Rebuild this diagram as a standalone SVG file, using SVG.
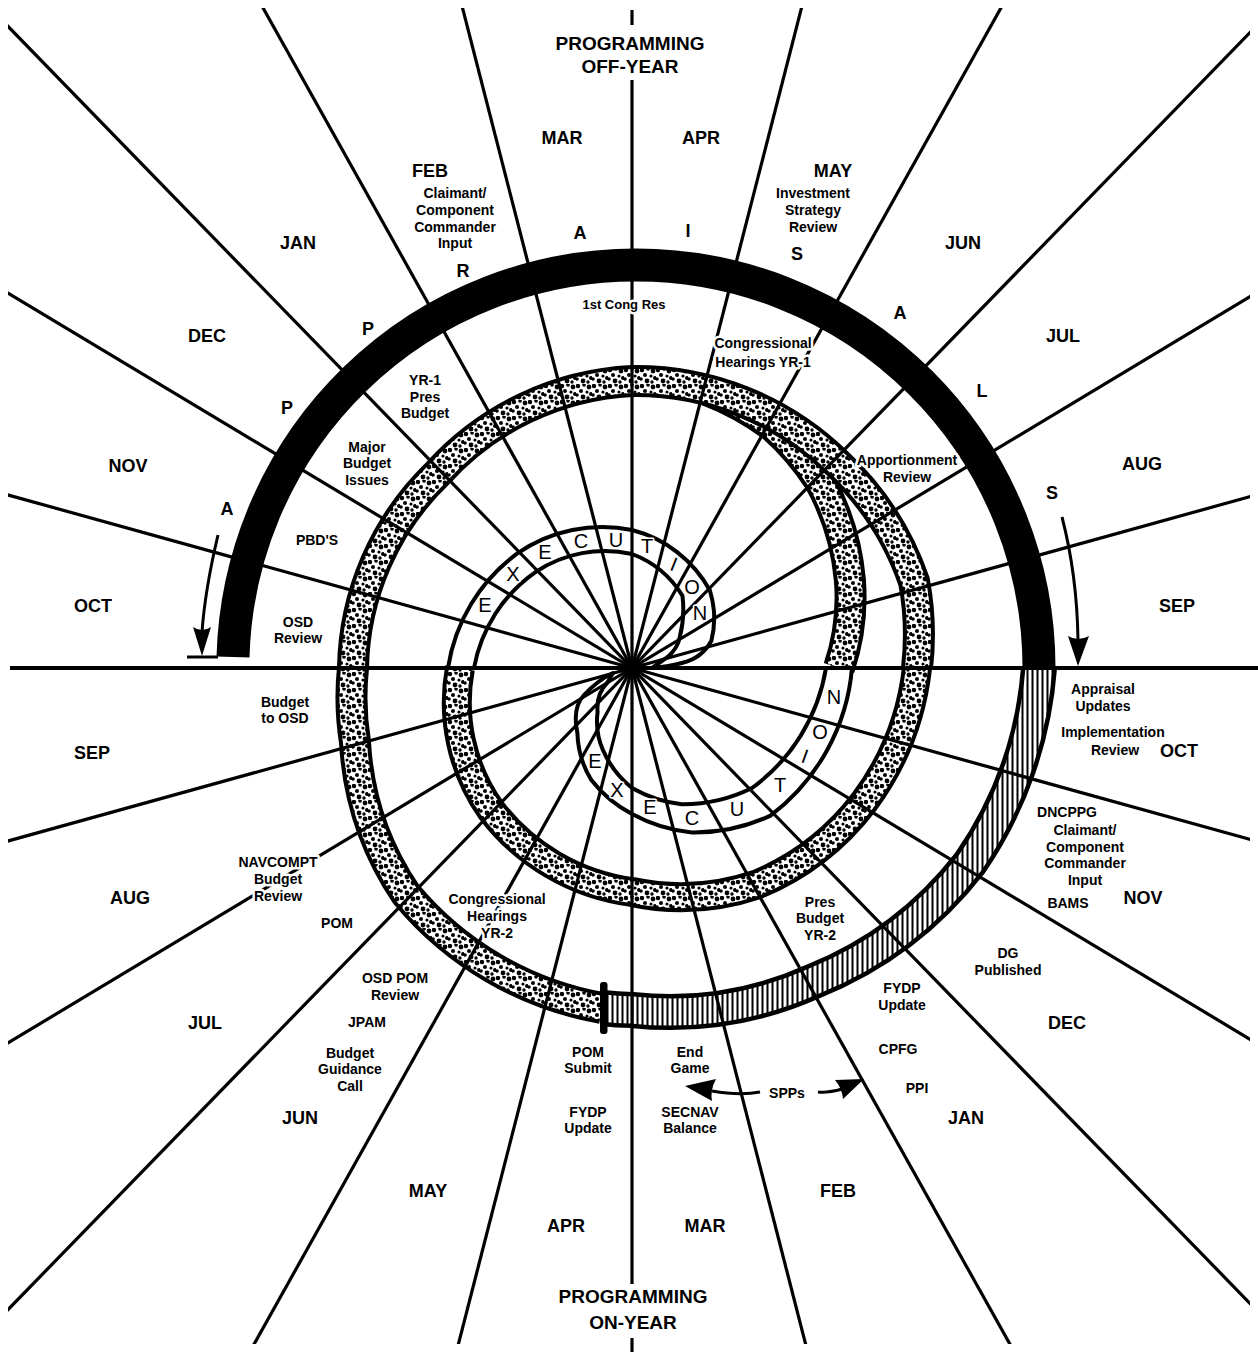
<svg xmlns="http://www.w3.org/2000/svg" width="1258" height="1352" viewBox="0 0 1258 1352">
<defs>
<style>
.t{font-family:"Liberation Sans",Arial,Helvetica,sans-serif;font-weight:bold;text-anchor:middle;fill:#000;paint-order:stroke;stroke:#fff;stroke-width:5px;stroke-linejoin:round}
.s{font-size:14px}
.m{font-size:18px}
.ttl{font-size:19px}
.x{font-family:"Liberation Sans",Arial,Helvetica,sans-serif;font-size:20px;text-anchor:middle;dominant-baseline:central;fill:#000;paint-order:stroke;stroke:#fff;stroke-width:3px;stroke-linejoin:round}
.ray{stroke:#000;stroke-width:3.2;fill:none}
.blk{fill:none;stroke:#000;stroke-linecap:butt}
.arr{fill:none;stroke:#000;stroke-width:3}
</style>
<pattern id="stip" width="16" height="16" patternUnits="userSpaceOnUse">
<rect width="16" height="16" fill="#fff"/>
<g fill="#000">
<circle cx="2" cy="2" r="2.2"/>
<circle cx="8" cy="1" r="1.8"/>
<circle cx="13" cy="3" r="2.4"/>
<circle cx="5" cy="7" r="2"/>
<circle cx="11" cy="8" r="1.6"/>
<circle cx="15" cy="10" r="2"/>
<circle cx="1" cy="11" r="1.8"/>
<circle cx="7" cy="13" r="2.4"/>
<circle cx="12" cy="14" r="1.7"/>
</g>
</pattern>
<pattern id="hatch" width="5" height="10" patternUnits="userSpaceOnUse">
<rect width="5" height="10" fill="#fff"/>
<rect x="1.5" y="0" width="2" height="10" fill="#000"/>
</pattern>
<clipPath id="frame"><rect x="8" y="8" width="1242" height="1336"/></clipPath>
</defs>
<rect width="1258" height="1352" fill="#fff"/>

<g id="spiral-b-stipple">
<path class="blk" stroke-width="32" d="M 706.5 389.8 A 285 285 0 0 1 772 425.5 A 272 272 0 0 1 819.4 480.6 A 250 250 0 0 1 849.9 580 A 222 222 0 0 1 839 668"/>
<path fill="none" stroke="url(#stip)" stroke-width="24" d="M 706.5 389.8 A 285 285 0 0 1 772 425.5 A 272 272 0 0 1 819.4 480.6 A 250 250 0 0 1 849.9 580 A 222 222 0 0 1 839 668"/>
</g>

<g id="spiral-a-black">
<path class="blk" stroke-width="33" d="M 233 657 A 403 403 0 0 1 636 265 A 403 403 0 0 1 1039 668"/>
</g>

<g id="spiral-a-hatched">
<path class="blk" stroke-width="36" d="M 1039 668 A 398 398 0 0 1 970 863 A 376 376 0 0 1 813 981.5 A 352 352 0 0 1 632 1010 A 341 341 0 0 1 602 1008"/>
<path fill="none" stroke="url(#hatch)" stroke-width="27" d="M 1039 668 A 398 398 0 0 1 970 863 A 376 376 0 0 1 813 981.5 A 352 352 0 0 1 632 1010 A 341 341 0 0 1 602 1008"/>
</g>

<g id="spiral-a-stipple">
<path class="blk" stroke-width="32" d="M 602 1008 A 330 330 0 0 1 406 894 A 300 300 0 0 1 355 742 A 283 283 0 0 1 353 668 A 277 277 0 0 1 437.5 473.5 A 281 281 0 0 1 632 381 A 288 288 0 0 1 837 463 A 292 292 0 0 1 914.1 581.8 A 290 290 0 0 1 917 668"/>
<path fill="none" stroke="url(#stip)" stroke-width="24" d="M 602 1008 A 330 330 0 0 1 406 894 A 300 300 0 0 1 355 742 A 283 283 0 0 1 353 668 A 277 277 0 0 1 437.5 473.5 A 281 281 0 0 1 632 381 A 288 288 0 0 1 837 463 A 292 292 0 0 1 914.1 581.8 A 290 290 0 0 1 917 668"/>
<path class="blk" stroke-width="30" d="M 917 668 A 276 276 0 0 1 864 802 A 259 259 0 0 1 757 884.5 A 237 237 0 0 1 632 892 A 212 212 0 0 1 490.6 809.4 A 186 186 0 0 1 460 668"/>
<path fill="none" stroke="url(#stip)" stroke-width="22" d="M 917 668 A 276 276 0 0 1 864 802 A 259 259 0 0 1 757 884.5 A 237 237 0 0 1 632 892 A 212 212 0 0 1 490.6 809.4 A 186 186 0 0 1 460 668"/>
</g>

<g id="execution-top">
<path fill="#fff" stroke="#000" stroke-width="4" stroke-linejoin="round" d="M 448 668 A 175 175 0 0 1 517.4 553.4 A 150 150 0 0 1 632 530 A 124 124 0 0 1 709.8 590.2 A 105 105 0 0 1 713.9 610.6 A 92 92 0 0 1 711.4 640.7 Q 702 658 682.7 662.7 Q 666 667 652 668 L 667.4 657.2 Q 678 648 679.8 637 Q 685 617 682.5 595.9 A 100 100 0 0 0 632 554 A 125 125 0 0 0 535.8 571.8 A 150 150 0 0 0 474 668 Z"/>
</g>

<g id="execution-bottom">
<path fill="#fff" stroke="#000" stroke-width="4" stroke-linejoin="round" d="M 852 668 A 207 207 0 0 1 770.5 815.6 A 180 180 0 0 1 691.8 832.4 A 158 158 0 0 1 632 814 A 126 126 0 0 1 591.3 780 A 95 95 0 0 1 577.4 733 Q 572 708 584 695 Q 598 680 613 673 Q 610 678 607.8 682 Q 596 694 597.6 712 A 72 72 0 0 0 602.9 750 A 100 100 0 0 0 632 788 A 130 130 0 0 0 681.6 804.2 A 155 155 0 0 0 752 788 A 185 185 0 0 0 826 668 Z"/>
</g>

<g id="connectors">
<g clip-path="url(#frame)">
<line class="ray" x1="-331.6" y1="400.8" x2="1595.6" y2="935.2"/>
<line class="ray" x1="-331.6" y1="935.2" x2="1595.6" y2="400.8"/>
<line class="ray" x1="-225.2" y1="153" x2="1489.2" y2="1183"/>
<line class="ray" x1="-225.2" y1="1183" x2="1489.2" y2="153"/>
<line class="ray" x1="-65.2" y1="-48.9" x2="1329.2" y2="1384.9"/>
<line class="ray" x1="-65.2" y1="1384.9" x2="1329.2" y2="-48.9"/>
<line class="ray" x1="144.1" y1="-204.9" x2="1119.9" y2="1540.9"/>
<line class="ray" x1="144.1" y1="1540.9" x2="1119.9" y2="-204.9"/>
<line class="ray" x1="383.3" y1="-300.6" x2="880.7" y2="1636.6"/>
<line class="ray" x1="383.3" y1="1636.6" x2="880.7" y2="-300.6"/>
</g>
<line x1="10" y1="668" x2="1258" y2="668" stroke="#000" stroke-width="4"/>
<line class="ray" x1="632" y1="10" x2="632" y2="25"/>
<line class="ray" x1="632" y1="80" x2="632" y2="1284"/>
<line class="ray" x1="632" y1="1338" x2="632" y2="1352"/>
<circle cx="632" cy="668" r="5" fill="#000"/>
<rect x="600" y="982" width="7.5" height="52" rx="3" fill="#000"/>
<path class="arr" d="M 218 535 Q 205 590 202 632"/>
<path d="M 202 656 L 193 627 Q 202 633 211 627 Z" fill="#000"/>
<line x1="187" y1="657" x2="218" y2="657" stroke="#000" stroke-width="3"/>
<path class="arr" d="M 1062 517 Q 1077 575 1078 640"/>
<path d="M 1078 666 L 1068 636 Q 1078 642 1089 636 Z" fill="#000"/>
<path class="arr" d="M 760 1092 Q 740 1096 712 1091"/>
<path d="M 685 1086 L 716 1079 Q 710 1090 712 1101 Z" fill="#000"/>
<path class="arr" d="M 818 1092 Q 828 1093 842 1089"/>
<path d="M 864 1079 L 835 1080 Q 842 1088 843 1099 Z" fill="#000"/>
</g>

<g id="execution-letters">
<text class="x" x="485" y="605">E</text>
<text class="x" x="513" y="574">X</text>
<text class="x" x="545" y="552">E</text>
<text class="x" x="581" y="541">C</text>
<text class="x" x="616" y="540">U</text>
<text class="x" x="647" y="546">T</text>
<text class="x" x="674" y="564" transform="rotate(22 674 564)">I</text>
<text class="x" x="692" y="587">O</text>
<text class="x" x="700" y="613">N</text>
<text class="x" x="595" y="761">E</text>
<text class="x" x="617" y="790">X</text>
<text class="x" x="650" y="807">E</text>
<text class="x" x="692" y="818">C</text>
<text class="x" x="737" y="809">U</text>
<text class="x" x="780" y="785">T</text>
<text class="x" x="805" y="756" transform="rotate(20 805 756)">I</text>
<text class="x" x="820" y="732">O</text>
<text class="x" x="834" y="697">N</text>
</g>

<g id="appraisals-letters">
<text class="t m" x="227" y="515">A</text>
<text class="t m" x="287" y="414">P</text>
<text class="t m" x="368" y="335">P</text>
<text class="t m" x="463" y="277">R</text>
<text class="t m" x="580" y="239">A</text>
<text class="t m" x="688" y="237">I</text>
<text class="t m" x="797" y="260">S</text>
<text class="t m" x="900" y="319">A</text>
<text class="t m" x="982" y="397">L</text>
<text class="t m" x="1052" y="499">S</text>
</g>

<g id="titles">
<text class="t ttl" x="630" y="50">PROGRAMMING</text>
<text class="t ttl" x="630" y="73">OFF-YEAR</text>
<text class="t ttl" x="633" y="1303">PROGRAMMING</text>
<text class="t ttl" x="633" y="1329">ON-YEAR</text>
</g>

<g id="months">
<text class="t m" x="93" y="612">OCT</text>
<text class="t m" x="128" y="472">NOV</text>
<text class="t m" x="207" y="342">DEC</text>
<text class="t m" x="298" y="249">JAN</text>
<text class="t m" x="430" y="177">FEB</text>
<text class="t m" x="562" y="144">MAR</text>
<text class="t m" x="701" y="144">APR</text>
<text class="t m" x="833" y="177">MAY</text>
<text class="t m" x="963" y="249">JUN</text>
<text class="t m" x="1063" y="342">JUL</text>
<text class="t m" x="1142" y="470">AUG</text>
<text class="t m" x="1177" y="612">SEP</text>
<text class="t m" x="92" y="759">SEP</text>
<text class="t m" x="130" y="904">AUG</text>
<text class="t m" x="205" y="1029">JUL</text>
<text class="t m" x="300" y="1124">JUN</text>
<text class="t m" x="428" y="1197">MAY</text>
<text class="t m" x="566" y="1232">APR</text>
<text class="t m" x="705" y="1232">MAR</text>
<text class="t m" x="838" y="1197">FEB</text>
<text class="t m" x="966" y="1124">JAN</text>
<text class="t m" x="1067" y="1029">DEC</text>
<text class="t m" x="1143" y="904">NOV</text>
<text class="t m" x="1179" y="757">OCT</text>
</g>

<g id="labels">
<text class="t s" x="455" y="198">Claimant/</text>
<text class="t s" x="455" y="215">Component</text>
<text class="t s" x="455" y="232">Commander</text>
<text class="t s" x="455" y="248">Input</text>
<text class="t s" x="813" y="198">Investment</text>
<text class="t s" x="813" y="215">Strategy</text>
<text class="t s" x="813" y="232">Review</text>
<text class="t s" style="font-size:13px" x="624" y="309">1st Cong Res</text>
<text class="t s" x="763" y="348">Congressional</text>
<text class="t s" x="763" y="367">Hearings YR-1</text>
<text class="t s" x="425" y="385">YR-1</text>
<text class="t s" x="425" y="402">Pres</text>
<text class="t s" x="425" y="418">Budget</text>
<text class="t s" x="367" y="452">Major</text>
<text class="t s" x="367" y="468">Budget</text>
<text class="t s" x="367" y="485">Issues</text>
<text class="t s" x="907" y="465">Apportionment</text>
<text class="t s" x="907" y="482">Review</text>
<text class="t s" x="317" y="545">PBD'S</text>
<text class="t s" x="298" y="627">OSD</text>
<text class="t s" x="298" y="643">Review</text>
<text class="t s" x="285" y="707">Budget</text>
<text class="t s" x="285" y="723">to OSD</text>
<text class="t s" x="1103" y="694">Appraisal</text>
<text class="t s" x="1103" y="711">Updates</text>
<text class="t s" x="1113" y="737">Implementation</text>
<text class="t s" x="1115" y="755">Review</text>
<text class="t s" x="1067" y="817">DNCPPG</text>
<text class="t s" x="1085" y="835">Claimant/</text>
<text class="t s" x="1085" y="852">Component</text>
<text class="t s" x="1085" y="868">Commander</text>
<text class="t s" x="1085" y="885">Input</text>
<text class="t s" x="1068" y="908">BAMS</text>
<text class="t s" x="278" y="867">NAVCOMPT</text>
<text class="t s" x="278" y="884">Budget</text>
<text class="t s" x="278" y="901">Review</text>
<text class="t s" x="337" y="928">POM</text>
<text class="t s" x="497" y="904">Congressional</text>
<text class="t s" x="497" y="921">Hearings</text>
<text class="t s" x="497" y="938">YR-2</text>
<text class="t s" x="820" y="907">Pres</text>
<text class="t s" x="820" y="923">Budget</text>
<text class="t s" x="820" y="940">YR-2</text>
<text class="t s" x="1008" y="958">DG</text>
<text class="t s" x="1008" y="975">Published</text>
<text class="t s" x="395" y="983">OSD POM</text>
<text class="t s" x="395" y="1000">Review</text>
<text class="t s" x="902" y="993">FYDP</text>
<text class="t s" x="902" y="1010">Update</text>
<text class="t s" x="367" y="1027">JPAM</text>
<text class="t s" x="898" y="1054">CPFG</text>
<text class="t s" x="350" y="1058">Budget</text>
<text class="t s" x="350" y="1074">Guidance</text>
<text class="t s" x="350" y="1091">Call</text>
<text class="t s" x="588" y="1057">POM</text>
<text class="t s" x="588" y="1073">Submit</text>
<text class="t s" x="690" y="1057">End</text>
<text class="t s" x="690" y="1073">Game</text>
<text class="t s" x="787" y="1098">SPPs</text>
<text class="t s" x="917" y="1093">PPI</text>
<text class="t s" x="588" y="1117">FYDP</text>
<text class="t s" x="588" y="1133">Update</text>
<text class="t s" x="690" y="1117">SECNAV</text>
<text class="t s" x="690" y="1133">Balance</text>
</g>
</svg>
